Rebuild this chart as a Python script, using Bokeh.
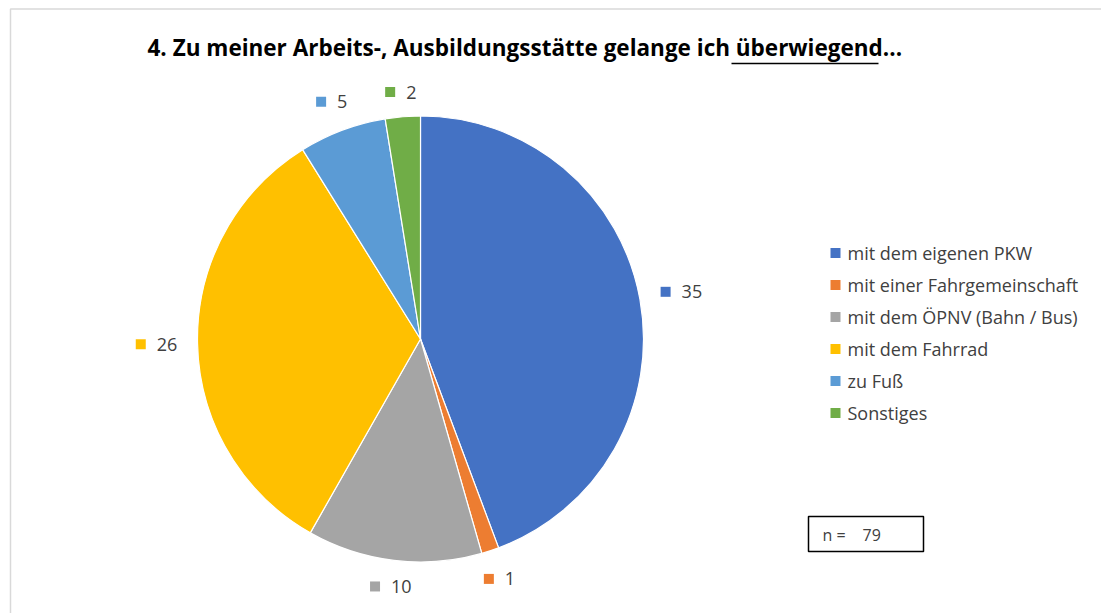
import math
from bokeh.plotting import figure
from bokeh.models import Range1d
from bokeh.core.properties import value
from bokeh.embed import file_html
from bokeh.resources import INLINE

categories = ["mit dem eigenen PKW", "mit einer Fahrgemeinschaft", "mit dem ÖPNV (Bahn / Bus)",
              "mit dem Fahrrad", "zu Fuß", "Sonstiges"]
counts = [35, 1, 10, 26, 5, 2]
colors = ["#4472C4", "#ED7D31", "#A5A5A5", "#FFC000", "#5B9BD5", "#70AD47"]
title_text = "4. Zu meiner Arbeits-, Ausbildungsstätte gelange ich überwiegend..."
n_label = "n ="
n_value = "79"

W, H = 1101, 613
FONT = "Open Sans"

p = figure(width=W, height=H, output_backend="svg", toolbar_location=None,
           x_range=Range1d(0, W), y_range=Range1d(0, H), min_border=0)
p.axis.visible = False
p.grid.visible = False
p.outline_line_color = None
p.background_fill_color = "white"
p.border_fill_color = "white"

def Y(py):
    return H - py

# chart border (only top/left visible in the window)
p.quad(left=10, right=3000, top=Y(8.5), bottom=-3000, fill_color=None,
       line_color="#d9d9d9", line_width=1.5)

# pie
cx, cy, r = 420, Y(338.5), 223
total = sum(counts)
cum = 0
starts, ends, mids = [], [], []
for c in counts:
    a0 = math.pi / 2 - 2 * math.pi * (cum + c) / total
    a1 = math.pi / 2 - 2 * math.pi * cum / total
    starts.append(a0)
    ends.append(a1)
    mids.append((a0 + a1) / 2)
    cum += c
p.wedge(x=[cx] * len(counts), y=[cy] * len(counts), radius=r,
        start_angle=starts, end_angle=ends, fill_color=colors,
        line_color="white", line_width=1.2)

# data labels ("outside end": label box just outside the pie edge)
box_h, digit_w = 20, 10.3
mk_x, mk_y, tx_x = [], [], []
for c, m in zip(counts, mids):
    w = 10 + 11 + len(str(c)) * digit_w
    ux, uy = math.cos(m), math.sin(m)
    half = abs(ux) * w / 2 + abs(uy) * box_h / 2
    d = r + 13 + 7 * abs(ux) + half
    bx, by = cx + d * ux, cy + d * uy
    mk_x.append(bx - w / 2 + 5)
    tx_x.append(bx - w / 2 + 21)
    mk_y.append(by)
p.scatter(x=mk_x, y=mk_y, marker="square", size=10,
          fill_color=colors, line_color=None)
p.text(x=tx_x, y=mk_y, text=[str(c) for c in counts],
       text_font=value(FONT), text_font_size="18px", text_color="#404040",
       text_align="left", text_baseline="middle")

# legend
leg_x, leg_y0, leg_dy = 835, 252.5, 32
ys = [Y(leg_y0 + i * leg_dy) for i in range(len(categories))]
p.scatter(x=[leg_x] * len(categories), y=ys, marker="square", size=10,
          fill_color=colors, line_color=None)
p.text(x=[leg_x + 12] * len(categories), y=ys, text=categories,
       text_font=value(FONT), text_font_size="18px", text_color="#404040",
       text_align="left", text_baseline="middle")

# title
p.text(x=[147], y=[Y(47)], text=[title_text], text_font=value(FONT),
       text_font_size="22.5px", text_font_style="bold", text_color="black",
       text_align="left", text_baseline="middle")
p.segment(x0=[731], y0=[Y(63)], x1=[878], y1=[Y(63)], line_color="black", line_width=1.5)

# n box
p.quad(left=[808], right=[923], top=[Y(516)], bottom=[Y(551)], fill_color="white",
       line_color="black", line_width=1.5)
p.text(x=[822], y=[Y(534)], text=[n_label], text_font=value(FONT), text_font_size="16px",
       text_color="#404040", text_align="left", text_baseline="middle")
p.text(x=[862], y=[Y(534)], text=[n_value], text_font=value(FONT), text_font_size="16px",
       text_color="#404040", text_align="left", text_baseline="middle")

open("out.html", "w").write(file_html(p, INLINE))
